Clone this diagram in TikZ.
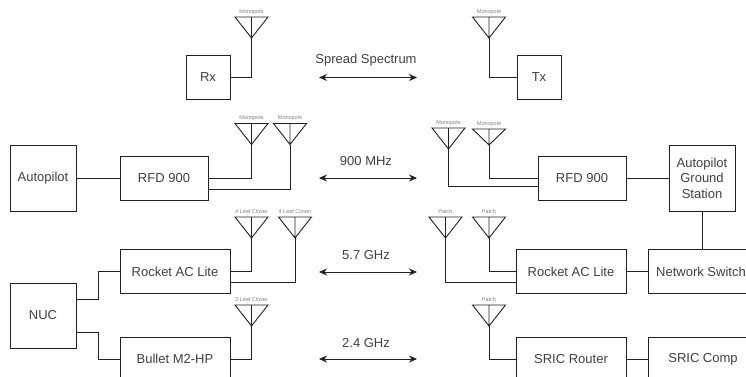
\documentclass[tikz,border=0pt]{standalone}
\usepackage{fontspec}
\setmainfont{Liberation Sans}
\usetikzlibrary{arrows.meta}
\definecolor{ink}{gray}{0.13}
\definecolor{txt}{gray}{0.25}
\tikzset{
  box/.style={draw=ink,line width=0.9pt,fill=white,inner sep=0pt,outer sep=0pt,align=center,text=txt,font=\fontsize{13}{15.5}\selectfont},
  wire/.style={draw=ink,line width=0.9pt},
  ant/.style={draw=ink,line width=0.9pt,line join=miter},
  antlabel/.style={text=gray,font=\fontsize{5.5}{6.5}\selectfont,inner sep=0pt},
  band/.style={text=txt,font=\fontsize{13}{15}\selectfont,inner sep=0pt},
  link/.style={draw=ink,line width=0.9pt,{Stealth[length=8pt,width=7pt]}-{Stealth[length=8pt,width=7pt]}}
}
% #1 name, #2 centre x, #3 top y, #4 apex y, #5 label
\newcommand{\antenna}[5]{%
  \coordinate (#1) at (#2,#4);
  \coordinate (#1t) at (#2,#3);
  \coordinate (#1l) at (#2-16.5,#3);
  \coordinate (#1r) at (#2+16.5,#3);
  \draw[ant] (#1l) -- (#1r) -- (#1) -- cycle (#1t) -- (#1);
  \node[antlabel] (#1lab) at (#2,#3-5) {#5};
}
\begin{document}
\begin{tikzpicture}[x=1pt,y=-1pt]
\clip (0,0) rectangle (746,377);
\fill[white] (0,0) rectangle (746,377);
% boxes
\node[box,minimum width=44pt,minimum height=43.5pt] (rx) at (208,77.5) {Rx};
\node[box,minimum width=44pt,minimum height=43.5pt] (tx) at (539,77.5) {Tx};
\node[box,minimum width=66pt,minimum height=66pt] (ap) at (43,178) {Autopilot};
\node[box,minimum width=88pt,minimum height=44pt] (rfdl) at (164,178) {RFD 900};
\node[box,minimum width=88pt,minimum height=44pt] (rfdr) at (582,178) {RFD 900};
\node[box,minimum width=66pt,minimum height=66pt] (gs) at (702,178) {Autopilot\\Ground\\Station};
\node[box,minimum width=110pt,minimum height=43.5pt] (rocl) at (175,271.5) {Rocket AC Lite};
\node[box,minimum width=110pt,minimum height=43.5pt] (rocr) at (571,271.5) {Rocket AC Lite};
\node[box,minimum width=106pt,minimum height=43.5pt] (sw) at (701,271.5) {Network Switch};
\node[box,minimum width=66pt,minimum height=65pt] (nuc) at (43,315.5) {NUC};
\node[box,minimum width=110pt,minimum height=44pt] (bul) at (175,359) {Bullet M2-HP};
\node[box,minimum width=110pt,minimum height=44pt] (ric) at (571,359) {SRIC Router};
\node[box,minimum width=110pt,minimum height=44pt] (comp) at (703,359) {SRIC Comp};
% antennas
\antenna{a1}{251.5}{17}{38}{Monopole}
\antenna{a2}{489}{17}{38}{Monopole}
\antenna{a3}{251.5}{123.5}{144.5}{Monopole}
\antenna{a4}{290}{123.5}{144.5}{Monopole}
\antenna{a5}{448.5}{128}{149}{Monopole}
\antenna{a6}{489}{129}{145}{Monopole}
\antenna{a7}{251.5}{217}{238}{4 Leaf Clover}
\antenna{a8}{295}{217}{238}{4 Leaf Clover}
\antenna{a9}{445.5}{217}{238}{Patch}
\antenna{a10}{489}{217}{238}{Patch}
\antenna{a11}{251.5}{305}{326}{3 Leaf Clover}
\antenna{a12}{489}{305}{326}{Patch}
% offset ports
\coordinate (rfdlp) at (208,189);
\coordinate (rfdrp) at (538,186);
\coordinate (roclp) at (230,282);
\coordinate (rocrp) at (516,282);
\coordinate (nuca) at (76,299);
\coordinate (nucb) at (76,332);
% connectors
\draw[wire] (a1) |- (rx.east);
\draw[wire] (a2) |- (tx.west);
\draw[wire] (ap.east) -- (rfdl.west);
\draw[wire] (a3) |- (rfdl.east);
\draw[wire] (a4) |- (rfdlp);
\draw[wire] (a6) |- (rfdr.west);
\draw[wire] (a5) |- (rfdrp);
\draw[wire] (rfdr.east) -- (gs.west);
\draw[wire] (gs.south) -- (gs.south |- sw.north);
\draw[wire] (a7) |- (rocl.east);
\draw[wire] (a8) |- (roclp);
\draw[wire] (a10) |- (rocr.west);
\draw[wire] (a9) |- (rocrp);
\draw[wire] (rocr.east) -- (sw.west);
\draw[wire] (a11) |- (bul.east);
\draw[wire] (a12) |- (ric.west);
\draw[wire] (ric.east) -- (comp.west);
\draw[wire] (nuca) -- (98,299) -- (98,271.5) -- (rocl.west);
\draw[wire] (nucb) -- (98,332) -- (98,359) -- (bul.west);
% bands
\node[band] (b1) at (366,60) {Spread Spectrum};
\node[band] (b2) at (366,161) {900 MHz};
\node[band] (b3) at (366,255) {5.7 GHz};
\node[band] (b4) at (366,343) {2.4 GHz};
\coordinate (l1) at (319,77.5); \coordinate (r1) at (417,77.5);
\coordinate (l2) at (319,178); \coordinate (r2) at (417,178);
\coordinate (l3) at (319,272); \coordinate (r3) at (417,272);
\coordinate (l4) at (319,359); \coordinate (r4) at (417,359);
\draw[link] (l1) -- (r1);
\draw[link] (l2) -- (r2);
\draw[link] (l3) -- (r3);
\draw[link] (l4) -- (r4);
\end{tikzpicture}
\end{document}
